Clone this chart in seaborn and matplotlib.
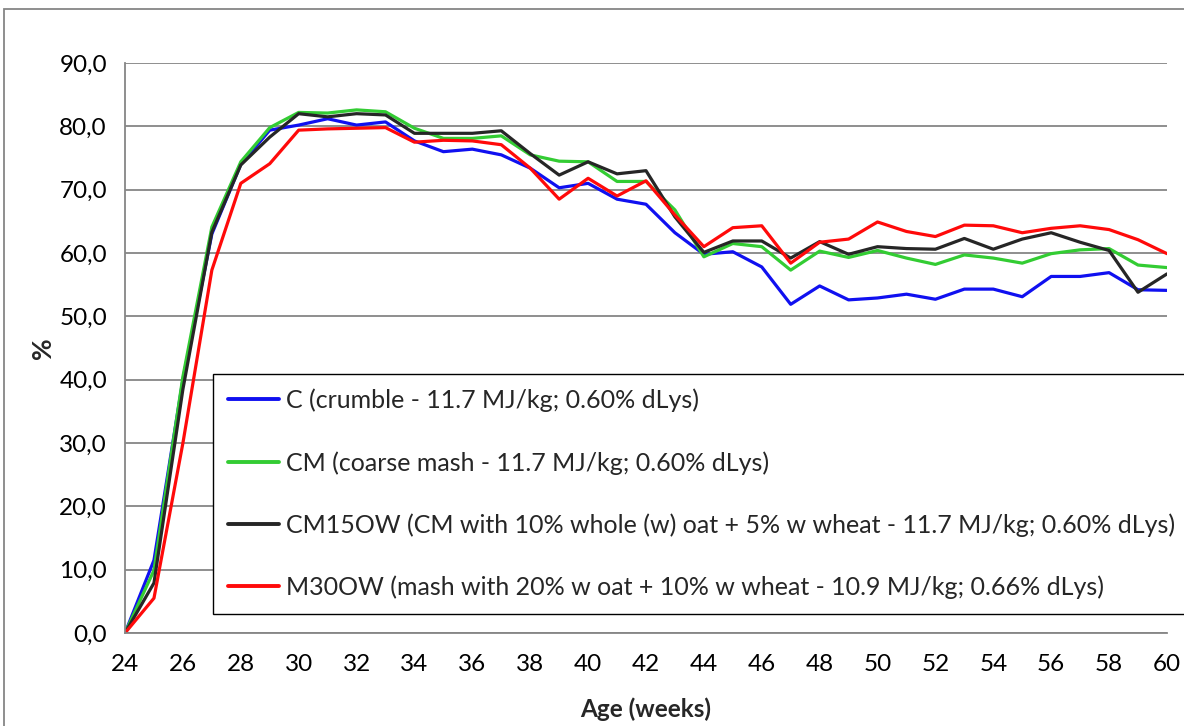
import numpy as np
import pandas as pd
import matplotlib
matplotlib.use("Agg")
import matplotlib.pyplot as plt
from matplotlib.lines import Line2D
from matplotlib.patches import Rectangle
import seaborn as sns

weeks = list(range(24, 61))

c_crumble = [0.0, 11.5, 40.0, 63.0, 74.0, 79.4, 80.2, 81.2, 80.2, 80.7,
             77.7, 76.0, 76.4, 75.5, 73.4, 70.3, 71.0, 68.5, 67.7, 63.2,
             59.8, 60.2, 57.8, 51.9, 54.8, 52.6, 52.9, 53.5, 52.7, 54.3,
             54.3, 53.1, 56.3, 56.3, 56.9, 54.2, 54.1]
cm_coarse = [0.0, 9.9, 40.5, 64.1, 74.4, 79.8, 82.2, 82.1, 82.6, 82.3,
             79.7, 78.1, 78.1, 78.5, 75.5, 74.5, 74.4, 71.3, 71.3, 66.8,
             59.4, 61.5, 61.0, 57.3, 60.3, 59.3, 60.4, 59.2, 58.2, 59.7,
             59.2, 58.4, 59.9, 60.5, 60.7, 58.1, 57.7]
cm15ow = [0.0, 7.9, 38.5, 63.3, 73.9, 78.3, 82.0, 81.5, 82.0, 81.8,
          78.9, 78.9, 78.9, 79.3, 75.7, 72.3, 74.4, 72.5, 73.0, 65.7,
          60.1, 61.9, 61.9, 59.2, 61.8, 59.8, 61.0, 60.7, 60.6, 62.3,
          60.6, 62.2, 63.2, 61.7, 60.4, 53.8, 56.7]
m30ow = [0.0, 5.5, 30.0, 57.3, 71.0, 74.1, 79.4, 79.6, 79.7, 79.8,
         77.5, 77.8, 77.7, 77.1, 73.4, 68.5, 71.8, 69.0, 71.4, 66.0,
         61.0, 64.0, 64.3, 58.4, 61.7, 62.2, 64.9, 63.4, 62.6, 64.4,
         64.3, 63.2, 63.9, 64.3, 63.7, 62.1, 59.9]

series_labels = [
    "C (crumble - 11.7 MJ/kg; 0.60% dLys)",
    "CM (coarse mash - 11.7 MJ/kg; 0.60% dLys)",
    "CM15OW (CM with 10% whole (w) oat + 5% w wheat - 11.7 MJ/kg; 0.60% dLys)",
    "M30OW (mash with 20% w oat + 10% w wheat - 10.9 MJ/kg; 0.66% dLys)",
]
series_colors = ["#1010F0", "#33CC33", "#262626", "#FF0A0A"]

y_ticks = [0, 10, 20, 30, 40, 50, 60, 70, 80, 90]
x_ticks = list(range(24, 61, 2))

df = pd.DataFrame({
    "week": weeks * 4,
    "value": c_crumble + cm_coarse + cm15ow + m30ow,
    "diet": sum([[lab] * len(weeks) for lab in series_labels], []),
})

sns.set_style("white")
plt.rcParams["font.family"] = ["Lato", "DejaVu Sans"]

fig = plt.figure(figsize=(11.84, 7.26), dpi=100)
ax = fig.add_axes([0.1056, 0.1281, 0.88, 0.7851])

sns.lineplot(data=df, x="week", y="value", hue="diet", hue_order=series_labels,
             palette=series_colors, linewidth=2.3, ax=ax, legend=False,
             errorbar=None)

ax.set_xlim(24, 60)
ax.set_ylim(0, 90)
ax.set_yticks(y_ticks)
ax.set_yticklabels([f"{v:.1f}".replace(".", ",") for v in y_ticks])
ax.set_xticks(x_ticks)
ax.set_xticklabels([str(v) for v in x_ticks])
ax.set_xticks(weeks, minor=True)

ax.grid(axis="y", color="#868686", linewidth=1.3)
ax.set_axisbelow(True)
for side in ["top", "right"]:
    ax.spines[side].set_visible(False)
for side in ["left", "bottom"]:
    ax.spines[side].set_color("#868686")
    ax.spines[side].set_linewidth(1.3)

ax.tick_params(axis="both", which="both", direction="out", color="#868686",
               width=1.2, labelsize=17.5, labelcolor="black")
ax.tick_params(axis="both", which="major", length=7, pad=6)
ax.tick_params(axis="x", which="major", pad=8)
ax.tick_params(axis="x", which="minor", length=7)
ax.tick_params(axis="y", which="minor", length=0)

ax.set_xlabel("Age (weeks)", fontsize=17.5, fontweight="bold", labelpad=16)
ax.set_ylabel("%", fontsize=19, fontweight="bold", labelpad=3)

handles = [Line2D([0], [0], color=c, linewidth=2.8) for c in series_colors]
leg = ax.legend(handles, series_labels, loc="lower left",
                bbox_to_anchor=(0.0845, 0.033), fontsize=18,
                frameon=True, fancybox=False, framealpha=1,
                edgecolor="black", borderpad=0.6, labelspacing=1.55,
                handlelength=2.05, handletextpad=0.25, borderaxespad=0)
leg.get_frame().set_linewidth(1.0)

# outer chart-area frame
fig.patches.append(Rectangle((4 / 1184, -0.1), 1.2, 1 - 9 / 726 + 0.1,
                             transform=fig.transFigure, fill=False,
                             edgecolor="#868686", linewidth=1.3))

fig.savefig("out.png", dpi=100)
